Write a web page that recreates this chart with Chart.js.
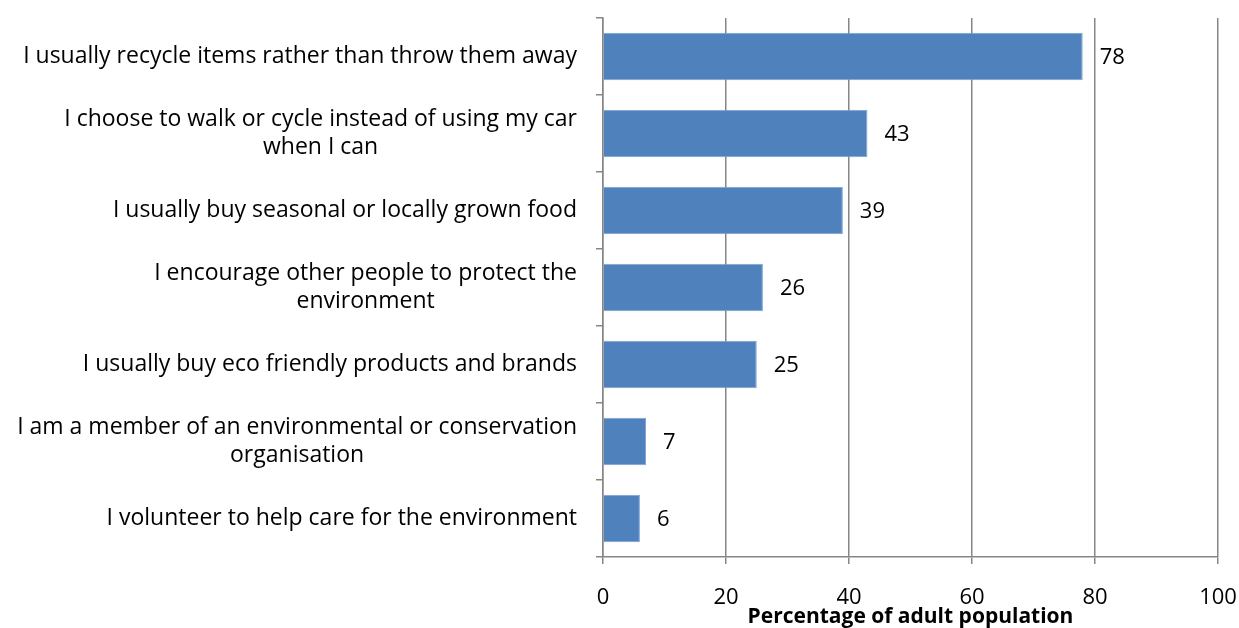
<!DOCTYPE html>
<html lang="en">
<head>
<meta charset="UTF-8">
<title>Environmental actions</title>
<script src="https://cdn.jsdelivr.net/npm/chart.js"></script>
<style>
  html, body { margin: 0; padding: 0; background: #fff; }
</style>
</head>
<body>
<canvas id="chart" width="1239" height="628"></canvas>
<script>
// categories, one array of lines per bar
const categories = [
  ['I usually recycle items rather than throw them away'],
  ['I choose to walk or cycle instead of using my car', 'when I can'],
  ['I usually buy seasonal or locally grown food'],
  ['I encourage other people to protect the', 'environment'],
  ['I usually buy eco friendly products and brands'],
  ['I am a member of an environmental or conservation', 'organisation'],
  ['I volunteer to help care for the environment']
];
const values = [78, 43, 39, 26, 25, 7, 6];
const xTicks = [0, 20, 40, 60, 80, 100];
const axisTitle = 'Percentage of adult population';

const FONT = 'Open Sans';
const gridColor = '#868686';

// draws the category labels (right-aligned block, lines centred) and the value labels
const labelPlugin = {
  id: 'labels',
  afterDraw(chart) {
    const ctx = chart.ctx;
    const ys = chart.scales.y;
    const xs = chart.scales.x;
    ctx.save();
    ctx.fillStyle = '#000';
    ctx.textBaseline = 'middle';
    ctx.font = '23px ' + FONT;
    const lh = 28;
    categories.forEach((lines, i) => {
      const y = ys.getPixelForValue(i);
      const w = Math.max(...lines.map(l => ctx.measureText(l).width));
      const cx = 577 - w / 2;
      ctx.textAlign = 'center';
      lines.forEach((l, j) => {
        ctx.fillText(l, cx, y - (lines.length - 1) * lh / 2 + j * lh);
      });
    });
    ctx.font = '22px ' + FONT;
    ctx.textAlign = 'left';
    values.forEach((v, i) => {
      ctx.fillText(String(v), xs.getPixelForValue(v) + 17, ys.getPixelForValue(i) + 1);
    });
    ctx.restore();
  }
};

new Chart(document.getElementById('chart'), {
  type: 'bar',
  data: {
    labels: categories,
    datasets: [{
      data: values,
      backgroundColor: '#4F81BD',
      borderColor: '#7EA3D0',
      borderWidth: 1,
      barPercentage: 0.62,
      categoryPercentage: 1
    }]
  },
  options: {
    indexAxis: 'y',
    responsive: false,
    animation: false,
    layout: { padding: { top: 18, right: 21, bottom: 0, left: 0 } },
    plugins: { legend: { display: false }, tooltip: { enabled: false } },
    scales: {
      x: {
        min: 0,
        max: 100,
        afterBuildTicks(scale) { scale.ticks = xTicks.map(v => ({ value: v })); },
        afterFit(scale) {
          scale.height = 71;
          scale.paddingLeft = 0;
          scale.paddingRight = 0;
        },
        grid: { color: gridColor, lineWidth: 1.5, tickLength: 7 },
        border: { color: gridColor, width: 1.5 },
        ticks: { color: '#000', font: { family: FONT, size: 22 }, padding: 21, maxRotation: 0 },
        title: {
          display: true,
          text: axisTitle,
          color: '#000',
          font: { family: FONT, size: 21, weight: 'bold' },
          padding: { top: 0, bottom: -2 }
        }
      },
      y: {
        afterFit(scale) { scale.width = 603; },
        grid: { drawOnChartArea: false, color: gridColor, lineWidth: 1.5, tickLength: 7 },
        border: { color: gridColor, width: 1.5 },
        ticks: { display: false }
      }
    }
  },
  plugins: [labelPlugin]
});
</script>
</body>
</html>
